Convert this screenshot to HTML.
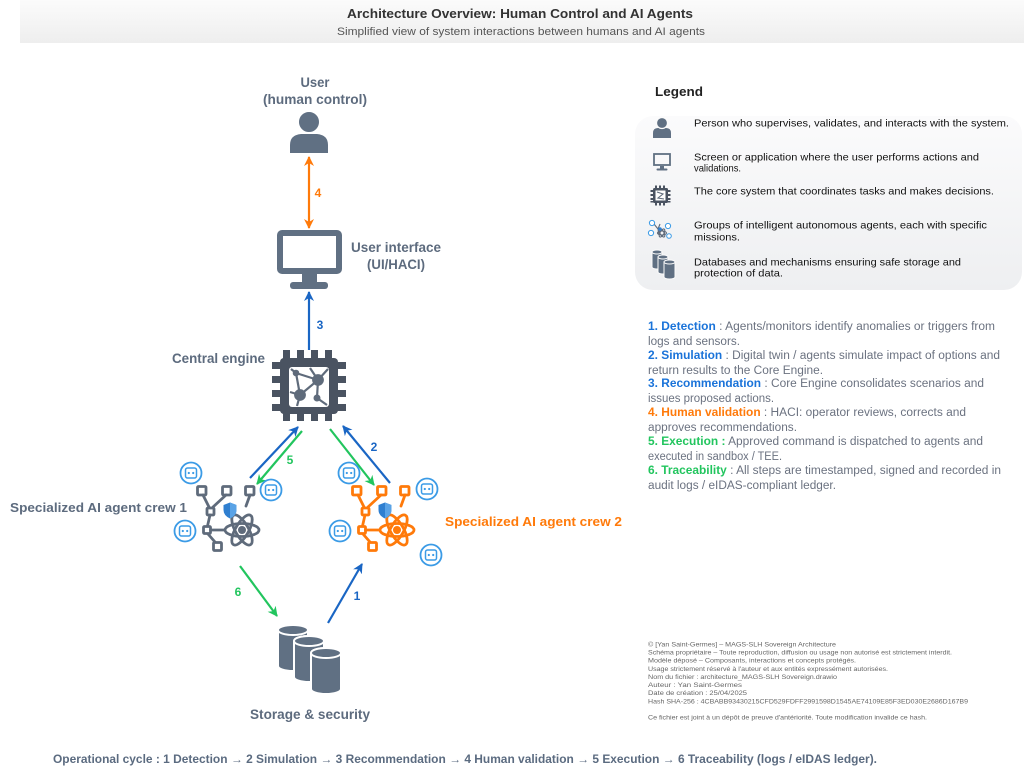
<!DOCTYPE html>
<html><head><meta charset="utf-8">
<style>
html,body{margin:0;padding:0;background:#fff;}
svg{display:block;}
text{font-family:"Liberation Sans",Arial,sans-serif;}
</style></head>
<body>
<svg width="1024" height="781" viewBox="0 0 1024 781" xmlns="http://www.w3.org/2000/svg">
<defs>
<linearGradient id="tb" x1="0" y1="0" x2="0" y2="1"><stop offset="0" stop-color="#fbfbfb"/><stop offset="1" stop-color="#eeeeee"/></linearGradient>
<linearGradient id="lg" x1="0" y1="0" x2="0" y2="1"><stop offset="0" stop-color="#fbfbfc"/><stop offset="1" stop-color="#eeeff1"/></linearGradient>
<marker id="mb" viewBox="0 0 10 10" refX="9" refY="5" markerWidth="10" markerHeight="10" markerUnits="userSpaceOnUse" orient="auto-start-reverse"><path d="M0,0 L10,5 L0,10 L3,5 z" fill="#1a66c4"/></marker>
<marker id="mg" viewBox="0 0 10 10" refX="9" refY="5" markerWidth="10" markerHeight="10" markerUnits="userSpaceOnUse" orient="auto-start-reverse"><path d="M0,0 L10,5 L0,10 L3,5 z" fill="#22c55e"/></marker>
<marker id="mo" viewBox="0 0 10 10" refX="9" refY="5" markerWidth="10" markerHeight="10" markerUnits="userSpaceOnUse" orient="auto-start-reverse"><path d="M0,0 L10,5 L0,10 L3,5 z" fill="#ff7a0a"/></marker>
<g id="robot">
<circle cx="0" cy="0" r="10.5" fill="#fff" stroke="#3b9be6" stroke-width="1.8"/>
<rect x="-5.5" y="-5" width="11" height="10" rx="2" fill="none" stroke="#3b9be6" stroke-width="1.5"/>
<circle cx="-2.2" cy="0" r="1.1" fill="#3b9be6"/><circle cx="2.2" cy="0" r="1.1" fill="#3b9be6"/>
</g>
<g id="shield">
<path d="M0,-7.5 L6.5,-5 L6.5,0 Q6.5,5.5 0,8.5 Q-6.5,5.5 -6.5,0 L-6.5,-5 Z" fill="#2f7fd0"/>
<path d="M0,-7.5 L6.5,-5 L6.5,0 Q6.5,5.5 0,8.5 Z" fill="#5aa3e6"/>
</g>
<g id="crew">
<rect x="197.5" y="486.5" width="8.5" height="8.5" rx="1"/><rect x="222.5" y="486.5" width="8.5" height="8.5" rx="1"/><rect x="245.5" y="486.5" width="8.5" height="8.5" rx="1"/>
<line x1="203" y1="495" x2="209" y2="507"/><line x1="226" y1="495" x2="213" y2="507"/>
<rect x="207" y="508" width="7" height="7" rx="1"/>
<line x1="210" y1="515" x2="207.5" y2="526"/>
<rect x="203.5" y="526.5" width="7" height="7" rx="1"/>
<line x1="210.5" y1="530" x2="225" y2="530"/>
<line x1="208" y1="534" x2="215" y2="542"/>
<rect x="213.5" y="542.5" width="8" height="8" rx="1"/>
<line x1="250" y1="495" x2="246" y2="506"/>
<ellipse cx="242" cy="530" rx="17" ry="6.5"/>
<ellipse cx="242" cy="530" rx="17" ry="6.5" transform="rotate(60 242 530)"/>
<ellipse cx="242" cy="530" rx="17" ry="6.5" transform="rotate(120 242 530)"/>
</g>
</defs>

<!-- title band -->
<rect x="20" y="0" width="1004" height="43" fill="url(#tb)"/>
<text x="520" y="18" font-size="12.5" font-weight="bold" fill="#333" text-anchor="middle" textLength="346" lengthAdjust="spacingAndGlyphs">Architecture Overview: Human Control and AI Agents</text>
<text x="521" y="35" font-size="11" fill="#555" text-anchor="middle" textLength="368" lengthAdjust="spacingAndGlyphs">Simplified view of system interactions between humans and AI agents</text>

<!-- User -->
<text x="315" y="87" font-size="13.5" font-weight="bold" fill="#5d6b7e" text-anchor="middle" textLength="29" lengthAdjust="spacingAndGlyphs">User</text>
<text x="315" y="104" font-size="13.5" font-weight="bold" fill="#5d6b7e" text-anchor="middle" textLength="104" lengthAdjust="spacingAndGlyphs">(human control)</text>
<path d="M290,153 L290,145 Q290,135 301,134 L317,134 Q328,135 328,145 L328,153 Z" fill="#607083"/>
<circle cx="309" cy="122" r="11" fill="#607083" stroke="#fff" stroke-width="2"/>

<!-- arrow 4 -->
<line x1="309" y1="157" x2="309" y2="228" stroke="#ff7a0a" stroke-width="2.2" marker-start="url(#mo)" marker-end="url(#mo)"/>
<text x="318" y="197" font-size="12" font-weight="bold" fill="#ff7a0a" text-anchor="middle">4</text>

<!-- Monitor -->
<rect x="280" y="233" width="59" height="38" rx="2" fill="none" stroke="#607083" stroke-width="6"/>
<rect x="302" y="273" width="15" height="11" fill="#607083"/>
<rect x="290" y="282" width="38" height="7" rx="3" fill="#607083"/>
<text x="396" y="252" font-size="13.5" font-weight="bold" fill="#5d6b7e" text-anchor="middle" textLength="90" lengthAdjust="spacingAndGlyphs">User interface</text>
<text x="396" y="269" font-size="13.5" font-weight="bold" fill="#5d6b7e" text-anchor="middle" textLength="58" lengthAdjust="spacingAndGlyphs">(UI/HACI)</text>

<!-- arrow 3 -->
<line x1="309" y1="350" x2="309" y2="292" stroke="#1a66c4" stroke-width="2.2" marker-end="url(#mb)"/>
<text x="320" y="329" font-size="12" font-weight="bold" fill="#1a66c4" text-anchor="middle">3</text>

<!-- Central engine -->
<text x="172" y="363" font-size="13.5" font-weight="bold" fill="#5d6b7e" textLength="93" lengthAdjust="spacingAndGlyphs">Central engine</text>
<g fill="#4a5361">
<rect x="280" y="358" width="58" height="56" rx="4"/>
<rect x="283" y="350" width="7" height="10"/><rect x="297" y="350" width="7" height="10"/><rect x="311" y="350" width="7" height="10"/><rect x="325" y="350" width="7" height="10"/>
<rect x="283" y="412" width="7" height="9"/><rect x="297" y="412" width="7" height="9"/><rect x="311" y="412" width="7" height="9"/><rect x="325" y="412" width="7" height="9"/>
<rect x="272" y="362" width="10" height="7"/><rect x="272" y="376" width="10" height="7"/><rect x="272" y="390" width="10" height="7"/><rect x="272" y="404" width="10" height="7"/>
<rect x="336" y="362" width="10" height="7"/><rect x="336" y="376" width="10" height="7"/><rect x="336" y="390" width="10" height="7"/><rect x="336" y="404" width="10" height="7"/>
</g>
<rect x="289" y="367" width="40" height="40" rx="3" fill="#fff"/>
<g stroke="#5f6b7b" stroke-width="2.2" fill="#5f6b7b">
<line x1="296" y1="373" x2="318" y2="380"/><line x1="296" y1="373" x2="300" y2="395"/><line x1="318" y1="380" x2="300" y2="395"/>
<line x1="318" y1="380" x2="328" y2="369"/><line x1="300" y1="395" x2="290" y2="392"/><line x1="300" y1="395" x2="297" y2="406"/>
<line x1="318" y1="380" x2="317" y2="398"/><line x1="317" y1="398" x2="327" y2="405"/><line x1="296" y1="373" x2="291" y2="369"/><line x1="318" y1="380" x2="310" y2="368"/>
<circle cx="318" cy="380" r="4.8"/><circle cx="300" cy="395" r="4.8"/><circle cx="296" cy="373" r="2.2"/><circle cx="317" cy="398" r="2.4"/>
</g>

<!-- engine <-> crews arrows -->
<line x1="250" y1="478" x2="298" y2="427" stroke="#1a66c4" stroke-width="2.2" marker-end="url(#mb)"/>
<line x1="302" y1="431" x2="257" y2="484" stroke="#22c55e" stroke-width="2.2" marker-end="url(#mg)"/>
<text x="290" y="464" font-size="12" font-weight="bold" fill="#22c55e" text-anchor="middle">5</text>
<line x1="330" y1="429" x2="374" y2="485" stroke="#22c55e" stroke-width="2.2" marker-end="url(#mg)"/>
<line x1="390" y1="483" x2="343" y2="426" stroke="#1a66c4" stroke-width="2.2" marker-end="url(#mb)"/>
<text x="374" y="451" font-size="12" font-weight="bold" fill="#1a66c4" text-anchor="middle">2</text>

<!-- crew 1 -->
<use href="#crew" fill="none" stroke="#5f6b7b" stroke-width="2.8" stroke-linecap="round"/>
<circle cx="242" cy="530" r="4" fill="#5f6b7b"/>
<use href="#shield" x="230" y="510"/>
<use href="#robot" x="191" y="473"/>
<use href="#robot" x="271" y="490"/>
<use href="#robot" x="185" y="531"/>
<text x="10" y="512" font-size="13" font-weight="bold" fill="#5d6b7e" textLength="177" lengthAdjust="spacingAndGlyphs">Specialized AI agent crew 1</text>

<!-- crew 2 -->
<g transform="translate(155,0)">
<use href="#crew" fill="none" stroke="#ff7a0a" stroke-width="2.8" stroke-linecap="round"/>
<circle cx="242" cy="530" r="4" fill="#ff7a0a"/>
<use href="#shield" x="230" y="510"/>
<use href="#robot" x="194" y="473"/>
<use href="#robot" x="272" y="489"/>
<use href="#robot" x="185" y="531"/>
<use href="#robot" x="276" y="555"/>
</g>
<text x="445" y="526" font-size="13" font-weight="bold" fill="#ff7a0a" textLength="177" lengthAdjust="spacingAndGlyphs">Specialized AI agent crew 2</text>

<!-- storage arrows -->
<line x1="240" y1="566" x2="277" y2="616" stroke="#22c55e" stroke-width="2.2" marker-end="url(#mg)"/>
<text x="238" y="596" font-size="12" font-weight="bold" fill="#22c55e" text-anchor="middle">6</text>
<line x1="328" y1="623" x2="362" y2="564" stroke="#1a66c4" stroke-width="2.2" marker-end="url(#mb)"/>
<text x="357" y="600" font-size="12" font-weight="bold" fill="#1a66c4" text-anchor="middle">1</text>

<!-- storage cylinders -->
<g fill="#607083" stroke="#fff" stroke-width="2">
<path d="M278,630 A15,5 0 0 1 308,630 L308,666 A15,5 0 0 1 278,666 Z"/>
<ellipse cx="293" cy="630" rx="15" ry="5"/>
<path d="M294,641 A15,5 0 0 1 324,641 L324,677 A15,5 0 0 1 294,677 Z"/>
<ellipse cx="309" cy="641" rx="15" ry="5"/>
<path d="M311,653 A15,5 0 0 1 341,653 L341,689 A15,5 0 0 1 311,689 Z"/>
<ellipse cx="326" cy="653" rx="15" ry="5"/>
</g>
<text x="310" y="719" font-size="13.5" font-weight="bold" fill="#5d6b7e" text-anchor="middle" textLength="120" lengthAdjust="spacingAndGlyphs">Storage &amp; security</text>

<!-- Legend -->
<text x="655" y="96" font-size="13" font-weight="bold" fill="#222" textLength="48" lengthAdjust="spacingAndGlyphs">Legend</text>
<rect x="635" y="116" width="387" height="174" rx="18" fill="url(#lg)"/>
<!-- legend icons -->
<path d="M653,138 L653,133 Q653,128 658,128 L666,128 Q671,128 671,133 L671,138 Z" fill="#607083"/>
<circle cx="662" cy="123" r="5.5" fill="#607083" stroke="#fbfbfb" stroke-width="1.2"/>
<rect x="654" y="154" width="16" height="11" fill="none" stroke="#607083" stroke-width="1.8"/>
<rect x="660" y="166" width="4" height="3" fill="#607083"/><rect x="656.5" y="168.5" width="11" height="2" rx="1" fill="#607083"/>
<g fill="#4a5361"><rect x="653" y="188" width="15" height="15" rx="1.5"/>
<rect x="650.5" y="190" width="20" height="2"/><rect x="650.5" y="194" width="20" height="2"/><rect x="650.5" y="198" width="20" height="2"/><rect x="650.5" y="201" width="20" height="1.5"/>
<rect x="655" y="185.5" width="2" height="20"/><rect x="659" y="185.5" width="2" height="20"/><rect x="663" y="185.5" width="2" height="20"/></g>
<rect x="655.5" y="190.5" width="10" height="10" fill="#fff"/>
<path d="M657,192 L663,194 L658,198 L664,199" stroke="#5f6b7b" stroke-width="1.1" fill="none"/>
<g fill="none" stroke="#5f6b7b" stroke-width="1.1">
<line x1="654" y1="224" x2="658" y2="229"/><line x1="660" y1="224" x2="658" y2="229"/><line x1="658" y1="229" x2="659" y2="235"/>
<ellipse cx="662" cy="233" rx="4.5" ry="2" /><ellipse cx="662" cy="233" rx="4.5" ry="2" transform="rotate(60 662 233)"/><ellipse cx="662" cy="233" rx="4.5" ry="2" transform="rotate(120 662 233)"/>
</g>
<g fill="#fff" stroke="#3b9be6" stroke-width="1"><circle cx="652" cy="223" r="2.6"/><circle cx="668" cy="226" r="2.6"/><circle cx="651" cy="233" r="2.6"/><circle cx="669" cy="236" r="2.3"/></g>
<circle cx="660" cy="229" r="1.8" fill="#2f7fd0"/>
<g fill="#607083" stroke="#fbfbfb" stroke-width="1">
<path d="M652,252 A5,2 0 0 1 662,252 L662,267 A5,2 0 0 1 652,267 Z"/>
<ellipse cx="657" cy="252" rx="5" ry="2"/>
<path d="M658,257 A5,2 0 0 1 668,257 L668,272 A5,2 0 0 1 658,272 Z"/>
<ellipse cx="663" cy="257" rx="5" ry="2"/>
<path d="M664,262 A5.5,2 0 0 1 675,262 L675,277 A5.5,2 0 0 1 664,277 Z"/>
<ellipse cx="669.5" cy="262" rx="5.5" ry="2"/>
</g>
<g font-size="10.5" fill="#111">
<text x="694" y="126.5" textLength="315" lengthAdjust="spacingAndGlyphs">Person who supervises, validates, and interacts with the system.</text>
<text x="694" y="160.5" textLength="285" lengthAdjust="spacingAndGlyphs">Screen or application where the user performs actions and</text>
<text x="694" y="171.5" textLength="47" lengthAdjust="spacingAndGlyphs">validations.</text>
<text x="694" y="194.5" textLength="300" lengthAdjust="spacingAndGlyphs">The core system that coordinates tasks and makes decisions.</text>
<text x="694" y="228.5" textLength="293" lengthAdjust="spacingAndGlyphs">Groups of intelligent autonomous agents, each with specific</text>
<text x="694" y="240.5" textLength="46" lengthAdjust="spacingAndGlyphs">missions.</text>
<text x="694" y="265.5" textLength="267" lengthAdjust="spacingAndGlyphs">Databases and mechanisms ensuring safe storage and</text>
<text x="694" y="276.5" textLength="89" lengthAdjust="spacingAndGlyphs">protection of data.</text>
</g>

<!-- numbered list -->
<g font-size="11.5" fill="#6b7280">
<text x="648" y="330" textLength="347" lengthAdjust="spacingAndGlyphs"><tspan fill="#1a73d9" font-weight="bold">1. Detection</tspan> : Agents/monitors identify anomalies or triggers from</text>
<text x="648" y="345" textLength="92" lengthAdjust="spacingAndGlyphs">logs and sensors.</text>
<text x="648" y="359" textLength="352" lengthAdjust="spacingAndGlyphs"><tspan fill="#1a73d9" font-weight="bold">2. Simulation</tspan> : Digital twin / agents simulate impact of options and</text>
<text x="648" y="374" textLength="175" lengthAdjust="spacingAndGlyphs">return results to the Core Engine.</text>
<text x="648" y="387" textLength="336" lengthAdjust="spacingAndGlyphs"><tspan fill="#1a73d9" font-weight="bold">3. Recommendation</tspan> : Core Engine consolidates scenarios and</text>
<text x="648" y="402" textLength="126" lengthAdjust="spacingAndGlyphs">issues proposed actions.</text>
<text x="648" y="416" textLength="318" lengthAdjust="spacingAndGlyphs"><tspan fill="#ff7a0a" font-weight="bold">4. Human validation</tspan> : HACI: operator reviews, corrects and</text>
<text x="648" y="431" textLength="149" lengthAdjust="spacingAndGlyphs">approves recommendations.</text>
<text x="648" y="445" textLength="335" lengthAdjust="spacingAndGlyphs"><tspan fill="#22c55e" font-weight="bold">5. Execution :</tspan> Approved command is dispatched to agents and</text>
<text x="648" y="460" textLength="134" lengthAdjust="spacingAndGlyphs">executed in sandbox / TEE.</text>
<text x="648" y="474" textLength="353" lengthAdjust="spacingAndGlyphs"><tspan fill="#22c55e" font-weight="bold">6. Traceability</tspan> : All steps are timestamped, signed and recorded in</text>
<text x="648" y="489" textLength="188" lengthAdjust="spacingAndGlyphs">audit logs / eIDAS-compliant ledger.</text>
</g>

<!-- copyright -->
<g font-size="6.5" fill="#666">
<text x="648" y="646.5" textLength="188" lengthAdjust="spacingAndGlyphs">© [Yan Saint-Germes] – MAGS-SLH Sovereign Architecture</text>
<text x="648" y="654.5" textLength="304" lengthAdjust="spacingAndGlyphs">Schéma propriétaire – Toute reproduction, diffusion ou usage non autorisé est strictement interdit.</text>
<text x="648" y="662.5" textLength="208" lengthAdjust="spacingAndGlyphs">Modèle déposé – Composants, interactions et concepts protégés.</text>
<text x="648" y="671" textLength="240" lengthAdjust="spacingAndGlyphs">Usage strictement réservé à l'auteur et aux entités expressément autorisées.</text>
<text x="648" y="679" textLength="189" lengthAdjust="spacingAndGlyphs">Nom du fichier : architecture_MAGS-SLH Sovereign.drawio</text>
<text x="648" y="687" textLength="94" lengthAdjust="spacingAndGlyphs">Auteur : Yan Saint-Germes</text>
<text x="648" y="695" textLength="99" lengthAdjust="spacingAndGlyphs">Date de création : 25/04/2025</text>
<text x="648" y="703.5" textLength="320" lengthAdjust="spacingAndGlyphs">Hash SHA-256 : 4CBABB93430215CFD529FDFF2991598D1545AE74109E85F3ED030E2686D167B9</text>
<text x="648" y="719.5" textLength="279" lengthAdjust="spacingAndGlyphs">Ce fichier est joint à un dépôt de preuve d'antériorité. Toute modification invalide ce hash.</text>
</g>

<!-- bottom line -->
<text x="53" y="763" font-size="11.5" font-weight="bold" fill="#5b6b80" textLength="824" lengthAdjust="spacingAndGlyphs">Operational cycle : 1 Detection → 2 Simulation → 3 Recommendation → 4 Human validation → 5 Execution → 6 Traceability (logs / eIDAS ledger).</text>
</svg>
</body></html>
